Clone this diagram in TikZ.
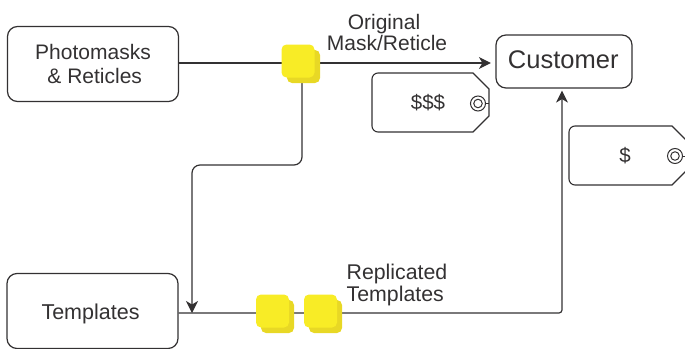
\documentclass[tikz,border=0pt]{standalone}
\usepackage{fontspec}
\setmainfont{Liberation Sans}
\usetikzlibrary{arrows.meta}
\definecolor{inkdark}{HTML}{333132}
\definecolor{chipfront}{HTML}{F8EC26}
\definecolor{chipback}{HTML}{E8D825}
\tikzset{
  box/.style={draw=inkdark,line width=1.2pt,rounded corners=10pt,align=center,inner sep=0pt,
    minimum width=171pt,minimum height=75pt,font=\fontsize{21}{23.5}\selectfont,text=inkdark},
  chip/.style={fill=chipfront,rounded corners=5pt,minimum size=33pt,inner sep=0pt},
  chipshade/.style={fill=chipback,rounded corners=5pt,minimum size=33pt,inner sep=0pt},
  lbl/.style={align=center,inner sep=0pt,font=\fontsize{21}{21}\selectfont,text=inkdark},
  flow/.style={draw=inkdark,line width=1.2pt},
  flowtip/.style={flow,-{Stealth[length=12pt,width=12pt,inset=3.5pt]}},
  tagline/.style={draw=inkdark,line width=1.1pt},
  ringout/.style={draw=inkdark,circle,line width=1pt,minimum size=15pt,inner sep=0pt},
  ringin/.style={draw=inkdark,circle,line width=1pt,minimum size=8.5pt,inner sep=0pt},
}
\begin{document}
\begin{tikzpicture}[x=1pt,y=-1pt]
  \useasboundingbox (0,0) rectangle (685,348);
  \node[box](photo) at (93,64){Photomasks\\ \,\& Reticles};
  \node[box,text depth=0pt,font=\fontsize{21.5}{24}\selectfont](templates) at (92.5,311){\raisebox{-2pt}{Templates}\hspace{4pt}};
  \node[box,minimum width=136pt,minimum height=53pt,text depth=3pt,font=\fontsize{25.5}{28}\selectfont](customer) at (564,61.5){\hspace{-1.5pt}Customer};

  \coordinate (maskjoin) at (302,63);
  \coordinate (bend) at (192,165);
  \coordinate (tmpljoin) at (192,313);
  \coordinate (tmplright) at (562,313);

  \draw[flowtip,shorten >=4.5pt] (photo.east |- maskjoin) -- (maskjoin) -- (customer.west |- maskjoin);
  \draw[flowtip,rounded corners=8pt] (maskjoin) -- (maskjoin |- bend) -- (bend) -- (tmpljoin);
  \draw[flowtip,rounded corners=3pt] (templates.east |- tmpljoin) -- (tmplright) -- ([yshift=-2pt]customer.south -| tmplright);

  % chips
  \node[chipshade] at (303.5,66.5){};
  \node[chip](maskchip) at (298,61){};
  \node[chipshade] at (277.5,316.5){};
  \node[chip](chipa) at (272.5,311){};
  \node[chipshade] at (325.5,316.5){};
  \node[chip](chipb) at (320.5,311){};

  \node[lbl](origlbl) at (387,32.5){\hspace{-6pt}Original\\Mask/Reticle};
  \node[lbl,align=left,font=\fontsize{21.3}{22}\selectfont](repllbl) at (397,285){Replicated\\Templates};

  % price tags
  \draw[tagline] (385,73) -- (473,73) -- (489,89) -- (489,116) -- (473,132) -- (385,132)
    [rounded corners=6pt] -- (372,132) -- (372,73) -- (385,73);
  \node[lbl,font=\fontsize{20.5}{22}\selectfont](pricehigh) at (428,103){\$\$\$};
  \node[ringout](ringa) at (478,103.5){};
  \node[ringin] at (478,103.5){};
  \draw[tagline,line width=.8pt] (ringa.east) -- (489,103.5);

  \draw[tagline] (585,126) -- (672,126) -- (688,142) -- (688,169) -- (672,185) -- (585,185)
    [rounded corners=6pt] -- (569,185) -- (569,126) -- (585,126);
  \node[lbl,font=\fontsize{20.5}{22}\selectfont](pricelow) at (625,156){\$};
  \node[ringout](ringb) at (675,156){};
  \node[ringin] at (675,156){};
  \draw[tagline,line width=.8pt] (ringb.east) -- (688,156);
\end{tikzpicture}
\end{document}
